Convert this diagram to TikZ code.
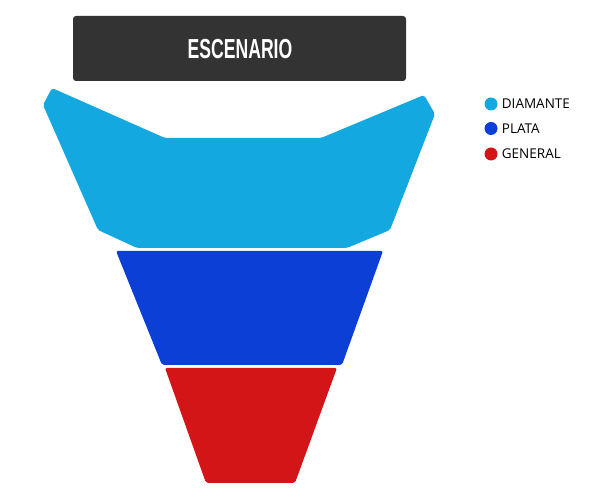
\documentclass[tikz,border=0pt]{standalone}
\usepackage{fontspec}
\setmainfont{Open Sans}
\newfontfamily\stagefont{Liberation Sans}
\usetikzlibrary{positioning}

\definecolor{stagegray}{HTML}{333333}
\definecolor{diamante}{HTML}{13A8E0}
\definecolor{plata}{HTML}{0B3FD6}
\definecolor{general}{HTML}{D41518}

\tikzset{
  zone/.style={fill=#1, draw=none, rounded corners=2pt},
  legenddot/.style={circle, fill=#1, minimum size=13pt, inner sep=0pt},
  legendtext/.style={anchor=west, inner sep=0pt, font=\fontsize{13.5}{14}\selectfont}
}

\begin{document}
\begin{tikzpicture}[x=1pt, y=-1pt]
			\useasboundingbox (0,0) rectangle (600,502);
			
			% stage
			\draw [fill=stagegray, draw=none, rounded corners=3pt] (73,16) rectangle (406,81);
			\node (escenario) at (240,49) [text=white, inner sep=0pt, xscale=0.64, font=\stagefont\bfseries\fontsize{27.5}{29}\selectfont] {ESCENARIO};
			
			% seating zones
			\draw [zone=diamante] (52,88) -- (165,138) -- (321,138) -- (424,95) -- (435,114) -- (390,230) -- (347,248) -- (137,248) -- (98,230) -- (43,105) -- cycle;
			\draw [zone=plata] (116,251) -- (383,251) -- (342,365) -- (162,365) -- cycle;
			\draw [zone=general] (165,368) -- (337,368) -- (295,483) -- (206,483) -- cycle;
			
			% legend
			\node (dotdiamante) at (491,104) [legenddot=diamante] {};
			\node (dotplata) at (491,128.5) [legenddot=plata] {};
			\node (dotgeneral) at (491,154) [legenddot=general] {};
			\node (txtdiamante) [legendtext, right=4pt of dotdiamante] {DIAMANTE};
			\node (txtplata) [legendtext, right=4pt of dotplata] {PLATA};
			\node (txtgeneral) [legendtext, right=4pt of dotgeneral] {GENERAL};
		\end{tikzpicture}
\end{document}
